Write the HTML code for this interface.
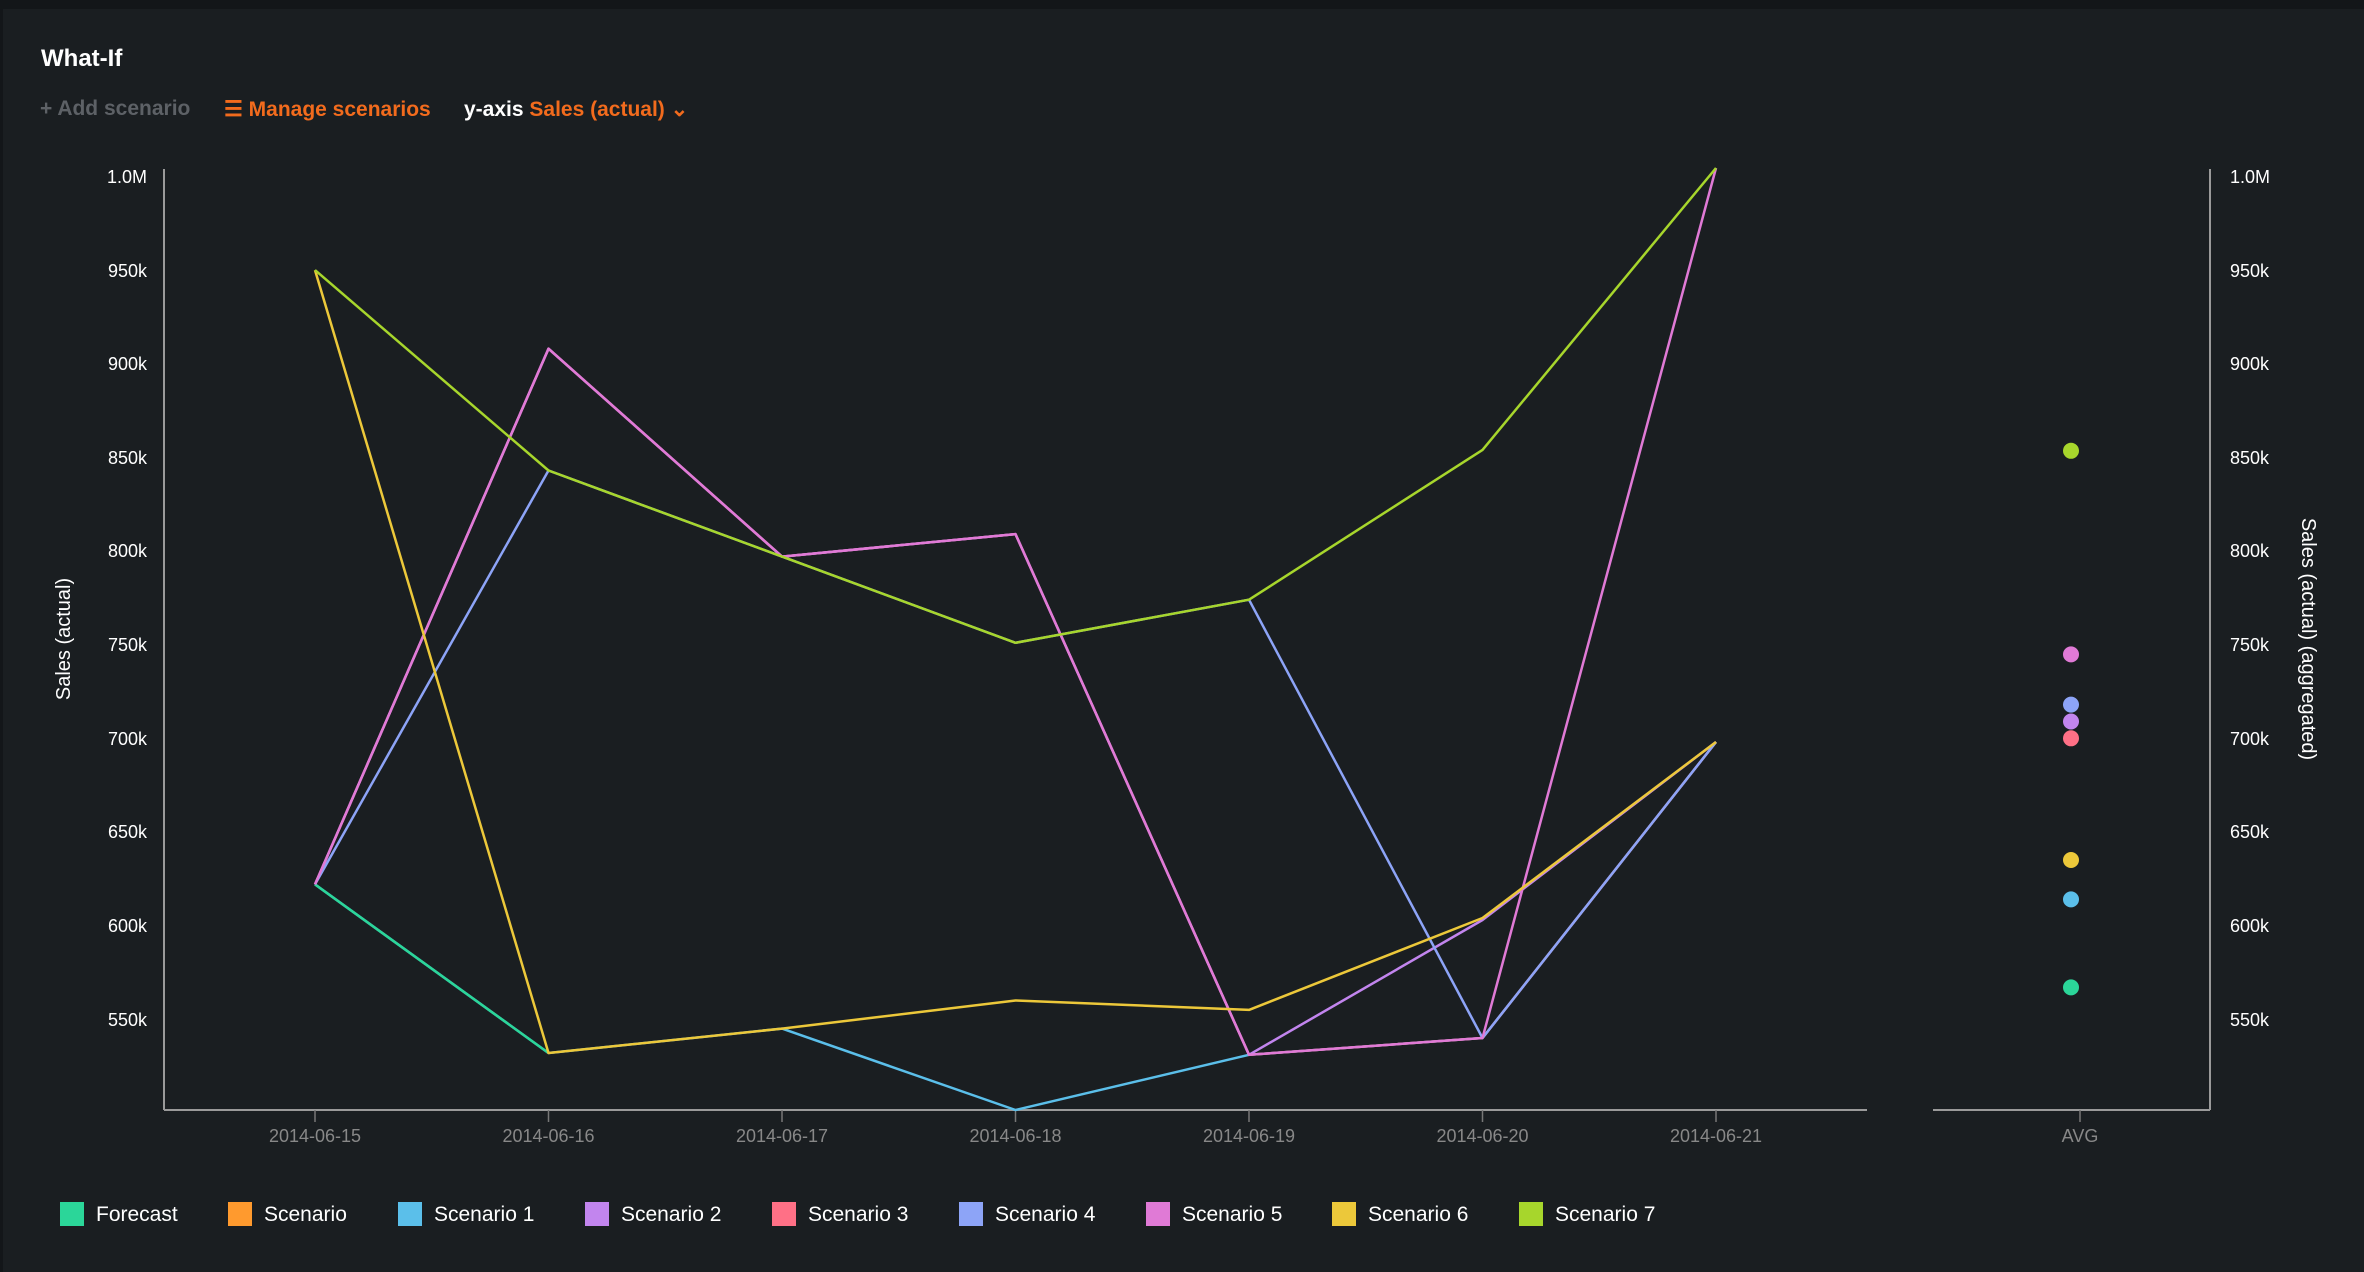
<!DOCTYPE html>
<html><head><meta charset="utf-8"><style>
html,body{margin:0;padding:0;background:#131619;}
body{width:2364px;height:1272px;position:relative;overflow:hidden;font-family:"Liberation Sans",sans-serif;}
.panel{position:absolute;left:3px;top:9px;width:2361px;height:1263px;background:#1a1e21;}
.t{position:absolute;white-space:nowrap;}
</style></head><body>
<div class="panel"></div>
<div class="t" style="left:41px;top:45px;font-size:24px;font-weight:bold;color:#fff;">What-If</div>
<div class="t" style="left:40px;top:97px;font-size:21px;font-weight:bold;color:#5d6166;">+ Add scenario</div>
<div class="t" style="left:224px;top:97px;font-size:21px;font-weight:bold;color:#f26b1d;">☰ Manage scenarios</div>
<div class="t" style="left:464px;top:97px;font-size:21px;font-weight:bold;color:#fff;">y-axis <span style="color:#f26b1d">Sales (actual) ⌄</span></div>
<svg width="2364" height="1272" style="position:absolute;left:0;top:0" font-family="Liberation Sans, sans-serif">
<g stroke="#9a9a9a" stroke-width="2">
<line x1="164" y1="169" x2="164" y2="1110"/>
<line x1="164" y1="1110" x2="1867" y2="1110"/>
<line x1="1933" y1="1110" x2="2210" y2="1110"/>
<line x1="2210" y1="169" x2="2210" y2="1110"/>
</g>
<g stroke="#777" stroke-width="1.5">
<line x1="315" y1="1110" x2="315" y2="1122"/><line x1="548.5" y1="1110" x2="548.5" y2="1122"/><line x1="782" y1="1110" x2="782" y2="1122"/><line x1="1015.5" y1="1110" x2="1015.5" y2="1122"/><line x1="1249" y1="1110" x2="1249" y2="1122"/><line x1="1482.5" y1="1110" x2="1482.5" y2="1122"/><line x1="1716" y1="1110" x2="1716" y2="1122"/><line x1="2080" y1="1110" x2="2080" y2="1122"/>
</g>
<g fill="#888" font-size="18" text-anchor="middle">
<text x="315" y="1142">2014-06-15</text><text x="548.5" y="1142">2014-06-16</text><text x="782" y="1142">2014-06-17</text><text x="1015.5" y="1142">2014-06-18</text><text x="1249" y="1142">2014-06-19</text><text x="1482.5" y="1142">2014-06-20</text><text x="1716" y="1142">2014-06-21</text><text x="2080" y="1142">AVG</text>
</g>
<g fill="#fff" font-size="18" text-anchor="end">
<text x="147" y="183">1.0M</text><text x="147" y="277">950k</text><text x="147" y="370">900k</text><text x="147" y="464">850k</text><text x="147" y="557">800k</text><text x="147" y="651">750k</text><text x="147" y="745">700k</text><text x="147" y="838">650k</text><text x="147" y="932">600k</text><text x="147" y="1026">550k</text>
</g>
<g fill="#fff" font-size="18">
<text x="2230" y="183">1.0M</text><text x="2230" y="277">950k</text><text x="2230" y="370">900k</text><text x="2230" y="464">850k</text><text x="2230" y="557">800k</text><text x="2230" y="651">750k</text><text x="2230" y="745">700k</text><text x="2230" y="838">650k</text><text x="2230" y="932">600k</text><text x="2230" y="1026">550k</text>
</g>
<text transform="translate(70,639) rotate(-90)" fill="#fff" font-size="20" text-anchor="middle">Sales (actual)</text>
<text transform="translate(2302,639) rotate(90)" fill="#fff" font-size="20" text-anchor="middle">Sales (actual) (aggregated)</text>
<g fill="none" stroke-width="2.5" stroke-linejoin="round">
<polyline stroke="#5bbfea" points="315,884.4 548.5,1053 782,1028.6 1015.5,1110 1249,1054.8 1482.5,1038 1716,742"/>
<polyline stroke="#2bd699" points="315,884.4 548.5,1053"/>
<polyline stroke="#ff7086" points="315,884.4 548.5,348.7 782,556.6 1015.5,534.1 1249,1054.8 1482.5,1038 1716,742"/>
<polyline stroke="#c285ee" points="315,884.4 548.5,348.7 782,556.6 1015.5,534.1 1249,1054.8 1482.5,920 1716,742"/>
<polyline stroke="#8da4f7" points="315,884.4 548.5,470.5 782,556.6 1015.5,642.8 1249,599.7 1482.5,1038 1716,742"/>
<polyline stroke="#e07ad6" points="315,884.4 548.5,348.7 782,556.6 1015.5,534.1 1249,1054.8 1482.5,1038 1716,168"/>
<polyline stroke="#ecc83a" points="315,270.1 548.5,1053 782,1028.6 1015.5,1000.5 1249,1009.9 1482.5,918 1716,742"/>
<polyline stroke="#a7d62c" points="315,270.1 548.5,470.5 782,556.6 1015.5,642.8 1249,599.7 1482.5,449.9 1716,168"/>
</g>
<g>
<circle cx="2071" cy="450.8" r="8" fill="#a7d62c"/>
<circle cx="2071" cy="654.4" r="8" fill="#e07ad6"/>
<circle cx="2071" cy="704.6" r="8" fill="#8da4f7"/>
<circle cx="2071" cy="721.5" r="8" fill="#c285ee"/>
<circle cx="2071" cy="738.3" r="8" fill="#ff7086"/>
<circle cx="2071" cy="860" r="8" fill="#ecc83a"/>
<circle cx="2071" cy="899.4" r="8" fill="#5bbfea"/>
<circle cx="2071" cy="987.4" r="8" fill="#2bd699"/>
</g>
<g font-size="21" fill="#fff">
<rect x="60" y="1202" width="24" height="24" fill="#2bd699"/><text x="96" y="1221">Forecast</text>
<rect x="228" y="1202" width="24" height="24" fill="#ff9a2e"/><text x="264" y="1221">Scenario</text>
<rect x="398" y="1202" width="24" height="24" fill="#5bbfea"/><text x="434" y="1221">Scenario 1</text>
<rect x="585" y="1202" width="24" height="24" fill="#c285ee"/><text x="621" y="1221">Scenario 2</text>
<rect x="772" y="1202" width="24" height="24" fill="#ff7086"/><text x="808" y="1221">Scenario 3</text>
<rect x="959" y="1202" width="24" height="24" fill="#8da4f7"/><text x="995" y="1221">Scenario 4</text>
<rect x="1146" y="1202" width="24" height="24" fill="#e07ad6"/><text x="1182" y="1221">Scenario 5</text>
<rect x="1332" y="1202" width="24" height="24" fill="#ecc83a"/><text x="1368" y="1221">Scenario 6</text>
<rect x="1519" y="1202" width="24" height="24" fill="#a7d62c"/><text x="1555" y="1221">Scenario 7</text>
</g>
</svg>
</body></html>
